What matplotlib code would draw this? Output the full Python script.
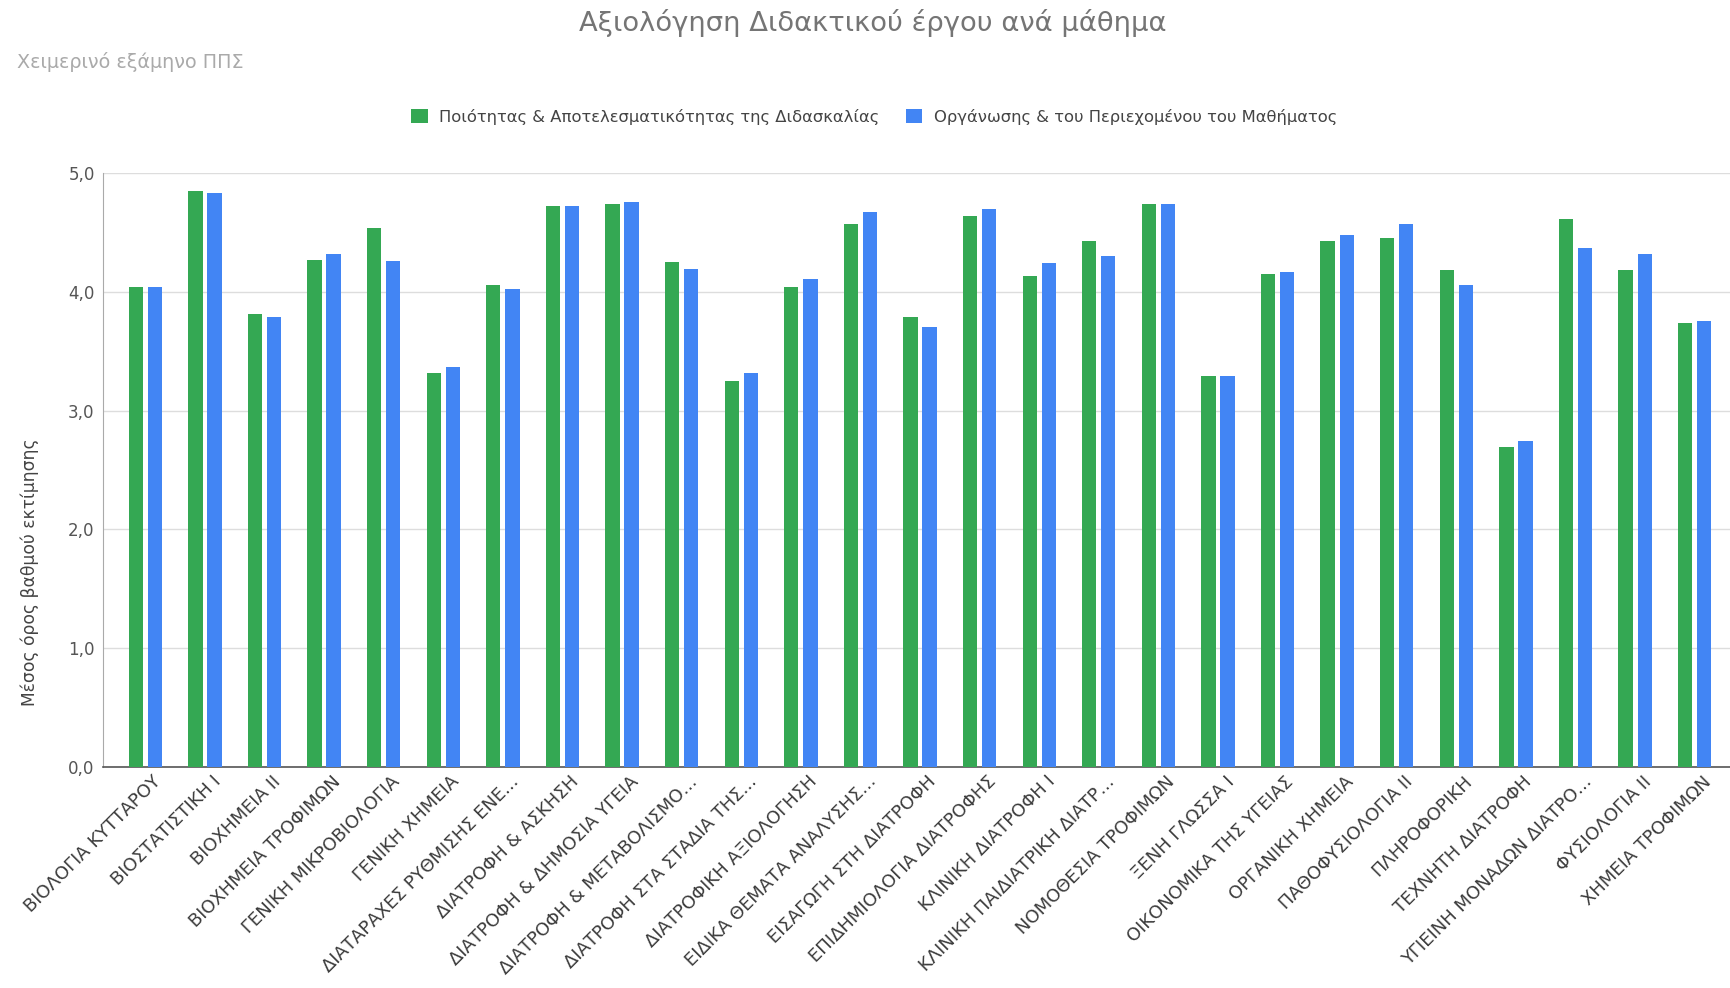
import numpy as np
import matplotlib.pyplot as plt
import matplotlib.transforms as mtransforms

plt.rcParams['font.family'] = ['DejaVu Sans']

# Μαθήματα και μέσοι όροι
mathimata = [
    "ΒΙΟΛΟΓΙΑ ΚΥΤΤΑΡΟΥ", "ΒΙΟΣΤΑΤΙΣΤΙΚΗ Ι", "ΒΙΟΧΗΜΕΙΑ ΙΙ", "ΒΙΟΧΗΜΕΙΑ ΤΡΟΦΙΜΩΝ",
    "ΓΕΝΙΚΗ ΜΙΚΡΟΒΙΟΛΟΓΙΑ", "ΓΕΝΙΚΗ ΧΗΜΕΙΑ", "ΔΙΑΤΑΡΑΧΕΣ ΡΥΘΜΙΣΗΣ ΕΝΕ...",
    "ΔΙΑΤΡΟΦΗ & ΑΣΚΗΣΗ", "ΔΙΑΤΡΟΦΗ & ΔΗΜΟΣΙΑ ΥΓΕΙΑ", "ΔΙΑΤΡΟΦΗ & ΜΕΤΑΒΟΛΙΣΜΟ...",
    "ΔΙΑΤΡΟΦΗ ΣΤΑ ΣΤΑΔΙΑ ΤΗΣ...", "ΔΙΑΤΡΟΦΙΚΗ ΑΞΙΟΛΟΓΗΣΗ", "ΕΙΔΙΚΑ ΘΕΜΑΤΑ ΑΝΑΛΥΣΗΣ...",
    "ΕΙΣΑΓΩΓΗ ΣΤΗ ΔΙΑΤΡΟΦΗ", "ΕΠΙΔΗΜΙΟΛΟΓΙΑ ΔΙΑΤΡΟΦΗΣ", "ΚΛΙΝΙΚΗ ΔΙΑΤΡΟΦΗ Ι",
    "ΚΛΙΝΙΚΗ ΠΑΙΔΙΑΤΡΙΚΗ ΔΙΑΤΡ...", "ΝΟΜΟΘΕΣΙΑ ΤΡΟΦΙΜΩΝ", "ΞΕΝΗ ΓΛΩΣΣΑ Ι",
    "ΟΙΚΟΝΟΜΙΚΑ ΤΗΣ ΥΓΕΙΑΣ", "ΟΡΓΑΝΙΚΗ ΧΗΜΕΙΑ", "ΠΑΘΟΦΥΣΙΟΛΟΓΙΑ ΙΙ", "ΠΛΗΡΟΦΟΡΙΚΗ",
    "ΤΕΧΝΗΤΗ ΔΙΑΤΡΟΦΗ", "ΥΓΙΕΙΝΗ ΜΟΝΑΔΩΝ ΔΙΑΤΡΟ...", "ΦΥΣΙΟΛΟΓΙΑ ΙΙ", "ΧΗΜΕΙΑ ΤΡΟΦΙΜΩΝ",
]
poiotita = [4.04, 4.85, 3.81, 4.27, 4.54, 3.32, 4.06, 4.72, 4.74, 4.25, 3.25, 4.04, 4.57, 3.79,
            4.64, 4.13, 4.43, 4.74, 3.29, 4.15, 4.43, 4.45, 4.18, 2.69, 4.61, 4.18, 3.74]
organosi = [4.04, 4.83, 3.79, 4.32, 4.26, 3.37, 4.02, 4.72, 4.76, 4.19, 3.32, 4.11, 4.67, 3.70,
            4.70, 4.24, 4.30, 4.74, 3.29, 4.17, 4.48, 4.57, 4.06, 2.74, 4.37, 4.32, 3.75]
yticks = [0, 1, 2, 3, 4, 5]

fig = plt.figure(figsize=(17.31, 9.88), dpi=100)
# η περιοχή του γραφήματος ξεπερνά λίγο τη δεξιά άκρη, όπως στο πρωτότυπο
ax = fig.add_axes([0.0595, 0.2237, 0.9440, 0.6012])

x = np.arange(len(mathimata))
w = 0.24
b1 = ax.bar(x - 0.16, poiotita, w, color="#34a853",
            label="Ποιότητας & Αποτελεσματικότητας της Διδασκαλίας", zorder=3)
b2 = ax.bar(x + 0.16, organosi, w, color="#4285f4",
            label="Οργάνωσης & του Περιεχομένου του Μαθήματος", zorder=3)

ax.set_xlim(-0.71, len(mathimata) - 1 + 0.71)
ax.set_ylim(0, 5)
ax.set_yticks(yticks)
ax.set_yticklabels([f"{v:.1f}".replace(".", ",") for v in yticks], color="#555555", fontsize=12)
ax.set_xticks(x)
ax.set_xticklabels(mathimata, rotation=45, ha="right", rotation_mode="anchor",
                   fontsize=13, color="#3c3c3c")
ax.tick_params(axis="y", length=0, pad=6)
ax.tick_params(axis="x", length=0, pad=4)
# μετατόπιση των ετικετών λίγο δεξιά
offset = mtransforms.ScaledTranslation(7 / 100, 0, fig.dpi_scale_trans)
for lbl in ax.get_xticklabels():
    lbl.set_transform(lbl.get_transform() + offset)
ax.grid(axis="y", color="#dddddd", linewidth=1, zorder=0)
for s in ["top", "right"]:
    ax.spines[s].set_visible(False)
ax.spines["left"].set_color("#aaaaaa")
ax.spines["bottom"].set_color("#555555")
ax.spines["bottom"].set_linewidth(1.2)

fig.text(0.504, 0.977, "Αξιολόγηση Διδακτικού έργου ανά μάθημα", ha="center", va="center",
         fontsize=19.7, color="#757575")
fig.text(0.010, 0.937, "Χειμερινό εξάμηνο ΠΠΣ", ha="left", va="center",
         fontsize=13.8, color="#aaaaaa")
fig.text(0.017, 0.421, "Μέσος όρος βαθμού εκτίμησης", rotation=90, ha="center", va="center",
         fontsize=12.3, color="#444444")

fig.legend(handles=[b1, b2], loc="center", bbox_to_anchor=(0.505, 0.882), ncol=2,
           frameon=False, fontsize=11.8, handlelength=1.0, handleheight=1.0,
           columnspacing=1.6, handletextpad=0.7, labelcolor="#444444")

fig.savefig("out.png", dpi=100)
